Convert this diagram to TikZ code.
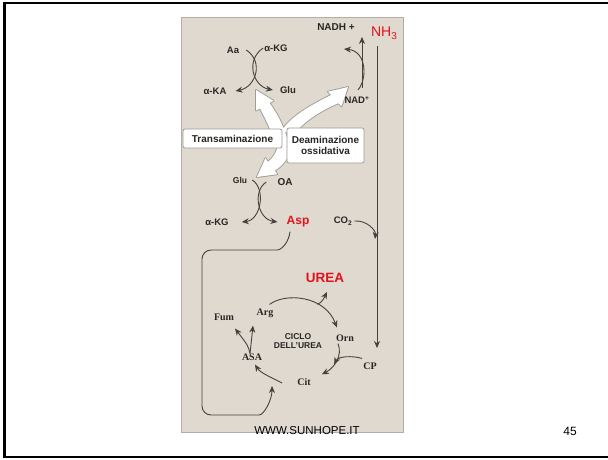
\documentclass[tikz,border=0pt]{standalone}
\usepackage{fontspec}
\setmainfont{Liberation Sans}
\newfontfamily\cyclefont{Liberation Serif}
\usetikzlibrary{arrows.meta}
\definecolor{panelbg}{RGB}{224,217,207}
\definecolor{panelrim}{RGB}{180,173,165}
\definecolor{inkgray}{RGB}{40,38,36}
\definecolor{wiregray}{RGB}{68,65,62}
\definecolor{hotred}{RGB}{226,18,28}
\definecolor{fatrim}{RGB}{160,155,150}

\begin{document}
\begin{tikzpicture}[
    x=1pt, y=-1pt,
    every node/.style={inner sep=0pt, text=inkgray},
    mol/.style={font=\bfseries\fontsize{9.5}{10.5}\selectfont},
    cyc/.style={font=\cyclefont\bfseries\fontsize{10}{11}\selectfont},
    hot/.style={text=hotred, font=\bfseries\fontsize{13.5}{15}\selectfont},
    tag/.style={draw=fatrim, fill=white, rounded corners=2pt, align=center, line width=0.8pt, font=\bfseries\fontsize{10}{11.5}\selectfont},
    flow/.style={-{Stealth[length=7pt,width=6pt]}, line width=0.9pt, draw=wiregray},
    fatarrow/.style={fill=white, preaction={draw=fatrim, line width=1.8pt, line join=round}}
]
\useasboundingbox (0,0) rectangle (608,459);

% slide frame and figure panel
\draw[line width=2.6pt] (612,3) -- (4.3,3) -- (4.3,457) -- (612,457);
\draw[fill=panelbg, draw=panelrim, line width=0.8pt] (181,17) rectangle (403,432);

% the three white arrows
\path[fatarrow]
    (256,90) -- (256.1,110.6) -- (260,108.4) .. controls (266,120) and (270,128) .. (273,138)
      -- (287,138) .. controls (283,124) and (276,112) .. (269.6,103) -- (273.5,100.8) -- cycle
    (348,87) -- (328,91.7) -- (331,95) .. controls (305,108) and (285,120) .. (278,138)
      -- (292,138) .. controls (300,124) and (318,112) .. (338.4,103.2) -- (341.4,106.5) -- cycle
    (257,177) -- (265.4,158.2) -- (268.1,161.8) .. controls (276,155) and (279,148) .. (279,132)
      -- (293,132) .. controls (293,152) and (286,164) .. (274.7,170.6) -- (277.4,174.2) -- cycle;

\node[tag, minimum width=99pt, minimum height=19pt] (trans) at (232.5,138.5) {Transaminazione};
\node[tag, minimum width=77pt, minimum height=35pt] (deam) at (325.5,145.5) {Deaminazione\\ossidativa};

% labels
\node[mol, font=\bfseries\fontsize{10}{11}\selectfont] (nadh) at (336,27) {NADH +};
\node[hot, font=\fontsize{14}{15}\selectfont] (nh3) at (384,33) {NH\raisebox{-0.45ex}{\fontsize{10}{10}\selectfont 3}};
\node[mol] (aa) at (233,50) {Aa};
\node[mol] (akgtop) at (276,48) {α-KG};
\node[mol] (aka) at (215,91) {α-KA};
\node[mol] (glutop) at (288,90) {Glu};
\node[mol] (nad) at (357,100) {NAD\textsuperscript{+}};
\node[mol, font=\bfseries\fontsize{8.5}{9}\selectfont] (glulow) at (240,180) {Glu};
\node[mol, font=\bfseries\fontsize{10}{11}\selectfont] (oa) at (285,182) {OA};
\node[mol] (akglow) at (217,222) {α-KG};
\node[hot, font=\bfseries\fontsize{12}{14}\selectfont] (asp) at (298,222) {Asp};
\node[mol] (co2) at (343,221) {CO\textsubscript{2}};
\node[hot] (urea) at (325,278) {UREA};
\node[cyc] (arg) at (265,313) {Arg};
\node[cyc] (fum) at (224,317) {Fum};
\node[align=center, font=\bfseries\fontsize{8.5}{9.5}\selectfont] (ciclo) at (298,341) {CICLO\\DELL'UREA};
\node[cyc] (orn) at (345,338) {Orn};
\node[cyc] (cp) at (370,366) {CP};
\node[cyc] (cit) at (304,382) {Cit};
\node[cyc] (asa) at (252,357) {ASA};
\node[font=\fontsize{11.5}{12}\selectfont, text=black] (site) at (307,431) {WWW.SUNHOPE.IT};
\node[font=\fontsize{12}{12}\selectfont, text=black] (page) at (570,431) {45};

\coordinate (nadhin) at (344,49);
\coordinate (railtop) at (377,46);
\coordinate (railfoot) at (377,348);
\coordinate (co2in) at (375,239);
\coordinate (cycin) at (272,386);

% transamination
\draw[flow] ([xshift=7pt]aa.east) .. controls +(18,12) and +(20,-4) .. ([xshift=9pt]aka.east);
\draw[flow] ([xshift=-1pt]akgtop.west) .. controls +(-18,12) and +(-20,-4) .. ([xshift=-7pt]glutop.west);
% oxidative deamination
\draw[flow] ([xshift=1pt,yshift=6pt]nad.north) .. controls +(10,-12) and +(22,2) .. (nadhin);
\draw[flow] ([xshift=5pt,yshift=8pt]nad.north) -- ++(0,-51);
\draw[flow] (railtop) -- (railfoot);
\draw[flow] ([xshift=2pt]co2.east) .. controls +(12,-1) and +(1,-9) .. (co2in);
% aspartate
\draw[flow] ([xshift=5pt]glulow.east) .. controls +(14,9) and +(19,-2) .. ([xshift=13pt]akglow.east);
\draw[flow] ([xshift=-11pt]oa.west) .. controls +(-14,9) and +(-20,-3) .. ([xshift=-9pt]asp.west);
\draw[flow, rounded corners=9pt] ([xshift=-8pt,yshift=-4pt]asp.south) .. controls +(-1,10) and +(14,0) .. (268,250)
    -- (202,250) -- (202,415) -- (250,415) .. controls +(14,0) and +(0,14) .. (cycin);
% urea cycle
\draw[flow] ([xshift=-4pt,yshift=4pt]arg.north east) .. controls +(16,-12) and +(-12,-32) .. ([xshift=1pt,yshift=7pt]orn.north west)
    coordinate[pos=0.66] (ureafork);
\draw[flow] (ureafork) .. controls +(5,-1) and +(-2,4) .. ([xshift=2pt,yshift=-9pt]urea.south);
\draw[flow] ([xshift=-7pt,yshift=-2pt]orn.south) .. controls +(5,12) and +(12,-6) .. ([xshift=11pt,yshift=4pt]cit.north east)
    coordinate[pos=0.6] (cpjoin);
\draw[flow] ([xshift=-1pt,yshift=4pt]cp.north west) .. controls +(-10,-3) and +(4,-8) .. (cpjoin);
\draw[flow] ([xshift=-15pt,yshift=-1pt]cit.west) .. controls +(-10,-5) and +(5,8) .. ([xshift=3pt,yshift=-4pt]asa.south);
\draw[flow] ([xshift=-2pt]asa.north) .. controls +(-2,-8) .. ([xshift=11pt,yshift=-8pt]fum.south);
\draw[flow] ([xshift=-2pt]asa.north) .. controls +(1,-9) .. ([xshift=-12pt,yshift=-8pt]arg.south);
\end{tikzpicture}
\end{document}
